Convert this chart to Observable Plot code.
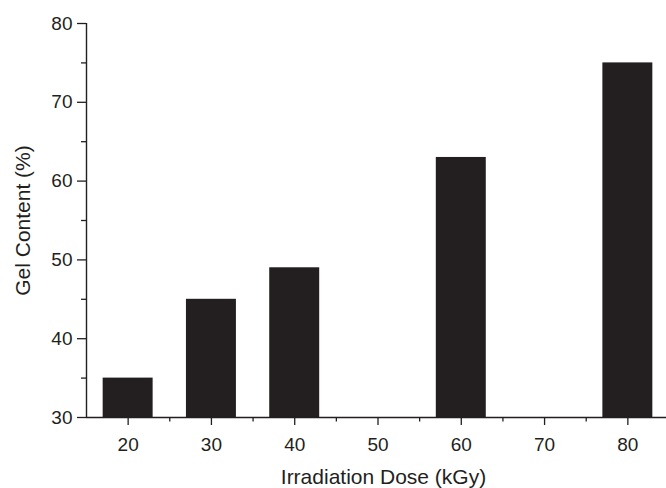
<!DOCTYPE html>
<html>
<head>
<meta charset="utf-8">
<script src="https://cdn.jsdelivr.net/npm/d3@7"></script>
<script src="https://cdn.jsdelivr.net/npm/@observablehq/plot@0.6"></script>
<style>
  html, body { margin: 0; padding: 0; background: #fff; }
  svg { display: block; }
</style>
</head>
<body>
<div id="chart"></div>
<script>
// Data
const doses = [20, 30, 40, 60, 80];          // Irradiation Dose (kGy)
const gelContent = [35, 45, 49, 63, 75];     // Gel Content (%)
const xTicks = [20, 30, 40, 50, 60, 70, 80];
const xMinorTicks = [25, 35, 45, 55, 65, 75];
const yTicks = [30, 40, 50, 60, 70, 80];
const yMinorTicks = [35, 45, 55, 65, 75];
const xLabel = "Irradiation Dose (kGy)";
const yLabel = "Gel Content (%)";

const xDomain = [15, 84.64];
const yDomain = [30, 80];
const barHalf = 3;
const ink = "#231f20";
const font = "'Liberation Sans', Arial, Helvetica, sans-serif";

const data = doses.map((d, i) => ({dose: d, gel: gelContent[i]}));

const chart = Plot.plot({
  width: 666,
  height: 488,
  marginLeft: 86,
  marginRight: 0,
  marginTop: 23,
  marginBottom: 71,
  style: {fontFamily: font, color: ink, background: "#fff"},
  x: {domain: xDomain},
  y: {domain: yDomain},
  marks: [
    Plot.rect(data, {
      x1: d => d.dose - barHalf,
      x2: d => d.dose + barHalf,
      y1: () => yDomain[0],
      y2: "gel",
      fill: ink
    }),
    Plot.axisX(xTicks, {tickSize: 8, tickPadding: 12, fontSize: 19, stroke: ink, fill: ink, strokeWidth: 1.3, label: null}),
    Plot.axisX(xMinorTicks, {tickSize: 4.5, text: null, stroke: ink, strokeWidth: 1.3, label: null}),
    Plot.axisY(yTicks, {tickSize: 9, tickPadding: 5, fontSize: 19, stroke: ink, fill: ink, strokeWidth: 1.3, label: null}),
    Plot.axisY(yMinorTicks, {tickSize: 5, text: null, stroke: ink, strokeWidth: 1.3, label: null}),
    Plot.ruleX([xDomain[0]], {stroke: ink, strokeWidth: 1.4}),
    Plot.ruleY([yDomain[0]], {stroke: ink, strokeWidth: 1.4}),
    Plot.text([xLabel], {frameAnchor: "bottom", textAnchor: "middle", dy: 66, dx: 7, fontSize: 21, fill: ink}),
    Plot.text([yLabel], {frameAnchor: "left", textAnchor: "middle", dx: -63, rotate: -90, fontSize: 21, fill: ink})
  ]
});
document.getElementById("chart").appendChild(chart);
</script>
</body>
</html>
